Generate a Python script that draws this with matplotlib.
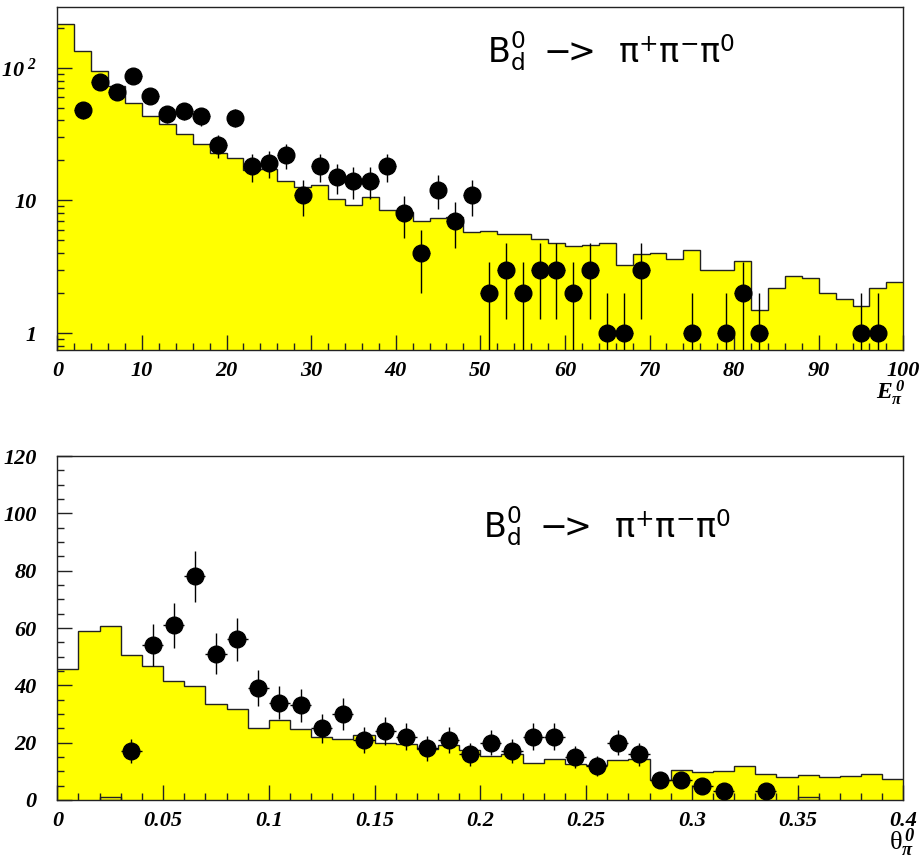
import numpy as np
import matplotlib
matplotlib.use("Agg")
from matplotlib import pyplot as plt
from matplotlib.ticker import FixedLocator, FixedFormatter, NullFormatter, MultipleLocator

# ---- data: E(pi0) spectrum, 50 bins of 2 GeV
e_edges = np.arange(0, 102, 2)
e_mc = [213, 134, 94, 73, 54, 43, 37.7, 31.7, 26.8, 22.6,
        20.8, 16.9, 17.1, 14.1, 12.7, 13.1, 10.3, 9.3, 10.6, 8.45,
        8.1, 7.0, 7.36, 7.54, 5.8, 5.92, 5.58, 5.58, 5.15, 4.75,
        4.49, 4.59, 4.77, 3.26, 3.93, 4.04, 3.62, 4.19, 2.98, 2.98,
        3.48, 1.49, 2.19, 2.7, 2.58, 2.0, 1.8, 1.6, 2.19, 2.41]
e_x = [3, 5, 7, 9, 11, 13, 15, 17, 19, 21, 23, 25, 27, 29, 31, 33, 35, 37, 39, 41,
       43, 45, 47, 49, 51, 53, 55, 57, 59, 61, 63, 65, 67, 69, 75, 79, 81, 83, 95, 97]
e_n = [48, 78, 65, 86, 61, 45, 47, 43, 26, 42, 18, 19, 22, 11, 18, 15, 14, 14, 18, 8,
       4, 12, 7, 11, 2, 3, 2, 3, 3, 2, 3, 1, 1, 3, 1, 1, 2, 1, 1, 1]

# ---- data: theta(pi0), 40 bins of 0.01
t_edges = np.round(np.arange(0, 0.41, 0.01), 2)
t_mc = [45.6, 59.0, 60.6, 50.5, 46.6, 41.5, 39.7, 33.6, 31.6, 25.2,
        27.8, 24.8, 21.9, 21.4, 22.6, 19.8, 19.4, 17.7, 19.1, 17.4,
        15.3, 16.0, 12.8, 14.2, 12.4, 12.2, 13.8, 14.2, 7.0, 10.5,
        9.8, 10.2, 11.9, 9.0, 8.1, 8.6, 8.1, 8.4, 9.1, 7.2]
t_x = [0.035, 0.045, 0.055, 0.065, 0.075, 0.085, 0.095, 0.105, 0.115, 0.125,
       0.135, 0.145, 0.155, 0.165, 0.175, 0.185, 0.195, 0.205, 0.215, 0.225,
       0.235, 0.245, 0.255, 0.265, 0.275, 0.285, 0.295, 0.305, 0.315, 0.335]
t_n = [17, 54, 61, 78, 51, 56, 39, 34, 33, 25,
       30, 21, 24, 22, 18, 21, 16, 20, 17, 22,
       22, 15, 12, 20, 16, 7, 7, 5, 3, 3]
t_small_x = [0.025, 0.355]
t_small_n = [1, 1]

e_ticks = [0, 10, 20, 30, 40, 50, 60, 70, 80, 90, 100]
e_ticklabels = ["0", "10", "20", "30", "40", "50", "60", "70", "80", "90", "100"]
e_yticks = [1, 10, 100]
e_yticklabels = ["1", "10", r"$\mathrm{10}^{\ \mathrm{2}}$"]
t_ticks = [0, 0.05, 0.1, 0.15, 0.2, 0.25, 0.3, 0.35, 0.4]
t_ticklabels = ["0", "0.05", "0.1", "0.15", "0.2", "0.25", "0.3", "0.35", "0.4"]
t_yticks = [0, 20, 40, 60, 80, 100, 120]
t_yticklabels = ["0", "20", "40", "60", "80", "100", "120"]

title = (r"$\mathsf{B}_{\mathsf{d}}^{\mathsf{0}}\ \ \mathsf{-\!\!>}\ \ "
         r"\mathsf{\pi}^{\mathsf{+}}\mathsf{\pi}^{\mathsf{-}}\mathsf{\pi}^{\mathsf{0}}$")

# ROOT-like bold italic serif labels
plt.rcParams['font.family'] = 'Liberation Serif'
plt.rcParams['font.weight'] = 'bold'
plt.rcParams['font.style'] = 'italic'
plt.rcParams['mathtext.fontset'] = 'custom'
plt.rcParams['mathtext.rm'] = 'Liberation Serif:italic:bold'
plt.rcParams['mathtext.it'] = 'Liberation Serif:italic:bold'
plt.rcParams['mathtext.bf'] = 'Liberation Serif:bold'
plt.rcParams['mathtext.sf'] = 'DejaVu Sans:style=normal:weight=normal'

yellow = '#ffff00'

fig = plt.figure(figsize=(9.22, 8.58), dpi=100)
ax1 = fig.add_axes([0.0622, 0.5921, 0.9175, 0.4001])
ax2 = fig.add_axes([0.0622, 0.0676, 0.9175, 0.4009])


def style_axes(ax):
    for s in ax.spines.values():
        s.set_linewidth(1.0)
        s.set_color('#222222')
    ax.tick_params(which='both', direction='in', top=False, right=False, width=1.0,
                   color='#222222', labelsize=16)
    ax.tick_params(which='major', length=10.5)
    ax.tick_params(which='minor', length=5)
    ax.tick_params(axis='x', pad=8)
    ax.tick_params(axis='y', pad=15)


# top panel
ax1.set_yscale('log')
ax1.stairs(e_mc, e_edges, fill=True, color=yellow, baseline=1e-3, zorder=1)
ax1.stairs(e_mc, e_edges, baseline=None, color='#222222', linewidth=1.0, zorder=2)
ax1.errorbar(e_x, e_n, yerr=np.sqrt(e_n), xerr=1, fmt='o', color='black',
             ms=12, elinewidth=1.0, capsize=0, zorder=3)
ax1.set_xlim(0, 100)
ax1.set_ylim(0.745, 288)
style_axes(ax1)
ax1.xaxis.set_major_locator(FixedLocator(e_ticks))
ax1.xaxis.set_major_formatter(FixedFormatter(e_ticklabels))
ax1.xaxis.set_minor_locator(MultipleLocator(2))
ax1.yaxis.set_major_locator(FixedLocator(e_yticks))
ax1.yaxis.set_major_formatter(FixedFormatter(e_yticklabels))
ax1.yaxis.set_minor_formatter(NullFormatter())
ax1.text(0.508, 0.836, title, transform=ax1.transAxes, fontsize=24,
         va='baseline', ha='left', weight='normal', style='normal')

# bottom panel
ax2.stairs(t_mc, t_edges, fill=True, color=yellow, baseline=0, zorder=1)
ax2.stairs(t_mc, t_edges, baseline=None, color='#222222', linewidth=1.0, zorder=2)
ax2.bar(t_small_x, t_small_n, width=0.01, fill=False, edgecolor='#222222', linewidth=1.0, zorder=2)
ax2.errorbar(t_x, t_n, yerr=np.sqrt(t_n), xerr=0.005, fmt='o', color='black',
             ms=12, elinewidth=1.0, capsize=0, zorder=3)
ax2.set_xlim(0, 0.4)
ax2.set_ylim(0, 120)
style_axes(ax2)
ax2.xaxis.set_major_locator(FixedLocator(t_ticks))
ax2.xaxis.set_major_formatter(FixedFormatter(t_ticklabels))
ax2.xaxis.set_minor_locator(MultipleLocator(0.01))
ax2.yaxis.set_major_locator(FixedLocator(t_yticks))
ax2.yaxis.set_major_formatter(FixedFormatter(t_yticklabels))
ax2.yaxis.set_minor_locator(MultipleLocator(5))
ax2.text(0.503, 0.762, title, transform=ax2.transAxes, fontsize=24,
         va='baseline', ha='left', weight='normal', style='normal')

fig.text(0.982, 1 - 399 / 858, r"$E_{\pi}^{\,0}$", ha='right', va='baseline', fontsize=17)
fig.text(0.993, 1 - 850 / 858, r"θ$_{\mathbf{\pi}}^{\,0}$", ha='right', va='baseline',
         fontsize=19, family='Liberation Serif', weight='normal', style='normal')

fig.savefig("out.png", dpi=100)
